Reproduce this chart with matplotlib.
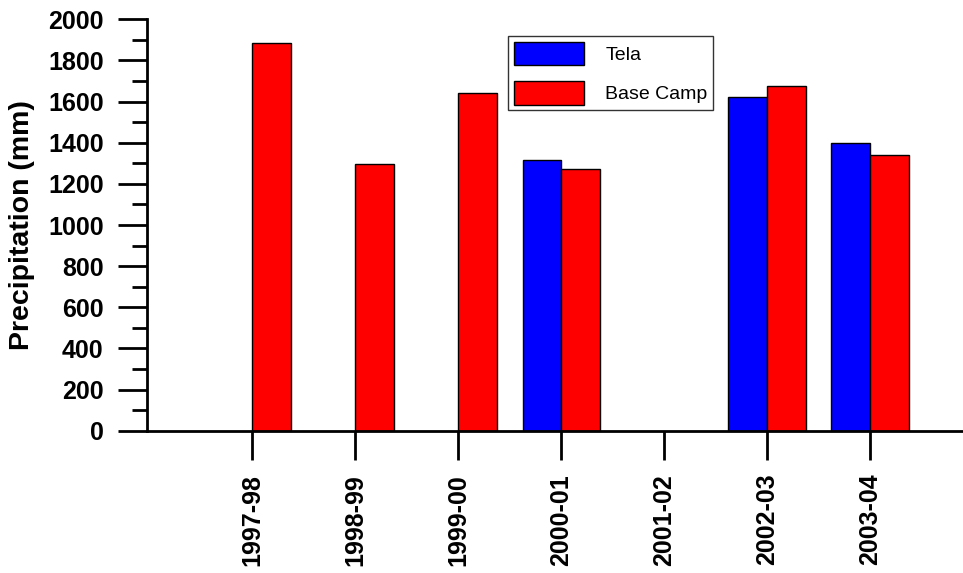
import numpy as np
import matplotlib
matplotlib.use("Agg")
import matplotlib.pyplot as plt

plt.rcParams['font.family'] = ['Liberation Sans', 'DejaVu Sans']

years = ['1997-98', '1998-99', '1999-00', '2000-01', '2001-02', '2002-03', '2003-04']
tela = [np.nan, np.nan, np.nan, 1316, np.nan, 1624, 1400]
base_camp = [1883, 1297, 1642, 1272, np.nan, 1677, 1339]

fig = plt.figure(figsize=(9.63, 5.73), dpi=100)
ax = fig.add_axes([0.1523, 0.2483, 0.8477, 0.718])

x = np.arange(len(years))
w = 0.375
ax.bar(x, tela, width=-w, align='edge', color='#0000ff', edgecolor='black',
       linewidth=1, label='Tela')
ax.bar(x, base_camp, width=w, align='edge', color='#ff0000', edgecolor='black',
       linewidth=1, label='Base Camp')

ax.set_xlim(-1.026, 6.903)
ax.set_ylim(0, 2000)
ax.set_yticks(np.arange(0, 2001, 200))
ax.set_yticks(np.arange(100, 2000, 200), minor=True)
ax.set_xticks(x)
ax.set_xticklabels(years, rotation=90, fontsize=18, fontweight='bold')
ax.tick_params(axis='y', labelsize=18, length=21, width=2, pad=10)
ax.tick_params(axis='y', which='minor', length=11, width=2)
ax.tick_params(axis='x', length=21, width=2, pad=10)
for lab in ax.get_yticklabels():
    lab.set_fontweight('bold')

for s in ['top', 'right']:
    ax.spines[s].set_visible(False)
ax.spines['left'].set_linewidth(2)
ax.spines['bottom'].set_linewidth(2)

ax.set_ylabel('Precipitation (mm)', fontsize=20.5, fontweight='bold')
ax.yaxis.set_label_coords(-0.137, 0.5)

leg = ax.legend(loc='upper left', bbox_to_anchor=(508 / 963, 1 - 36 / 573),
                bbox_transform=fig.transFigure, fontsize=14, frameon=True,
                fancybox=False, handlelength=3.6, handleheight=1.45,
                handletextpad=1.1, labelspacing=0.85, borderpad=0.3,
                borderaxespad=0)
leg.get_frame().set_edgecolor('black')
leg.get_frame().set_linewidth(1)

fig.savefig('out.png', dpi=100)
